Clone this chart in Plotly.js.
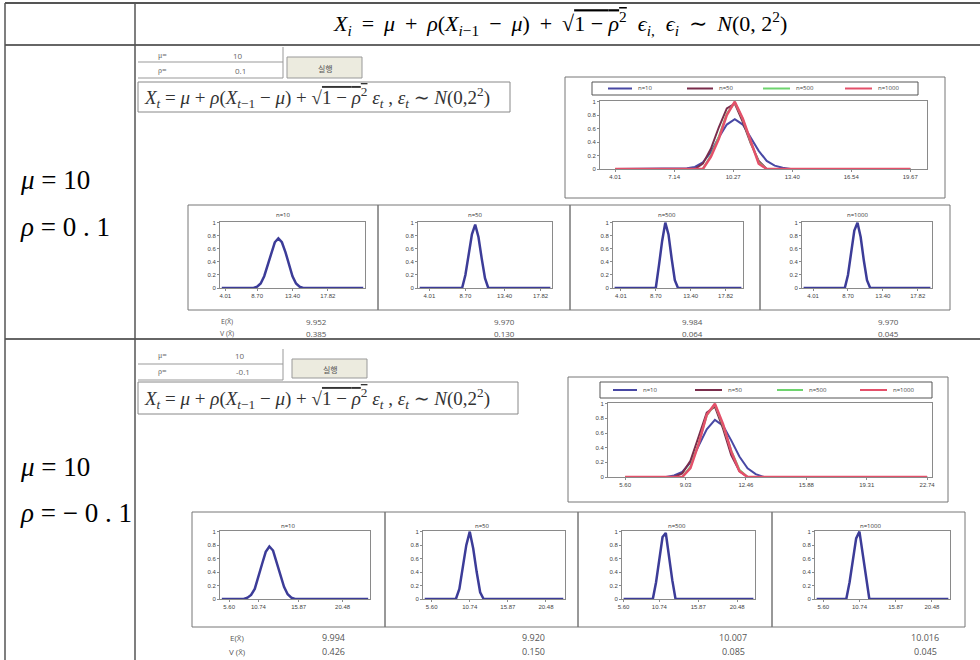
<!DOCTYPE html>
<html><head><meta charset="utf-8">
<script src="https://cdn.plot.ly/plotly-3.0.1.min.js"></script>
<style>html,body{margin:0;padding:0;background:#fff}</style>
</head><body><div id="chart" style="width:980px;height:660px"></div>
<script>
// ---------------- DATA ----------------
const seriesNames = ['n=10', 'n=50', 'n=500', 'n=1000'];
const yTickText = ['0', '0.2', '0.4', '0.6', '0.8', '1'];
const yTickVals = [0, 0.2, 0.4, 0.6, 0.8, 1];

// Row 1 : mu = 10, rho = 0.1
const r1BigTicks = ['4.01', '7.14', '10.27', '13.40', '16.54', '19.67'];
const r1SmallTicks = ['4.01', '8.70', '13.40', '17.82'];
const r1b_n10_x = [0, 8, 9, 10, 11, 12, 13, 14, 15, 16, 17, 18, 19, 20, 21, 22, 37];
const r1b_n10_y = [0, 0, 0.01, 0.03, 0.1, 0.25, 0.47, 0.66, 0.74, 0.66, 0.47, 0.27, 0.12, 0.05, 0.02, 0, 0];
const r1b_n50_x = [0, 10, 11, 12, 13, 14, 15, 16, 17, 18, 19, 37];
const r1b_n50_y = [0, 0, 0.08, 0.3, 0.62, 0.9, 0.97, 0.7, 0.38, 0.12, 0, 0];
const r1b_n500_x = [0, 11, 12, 13, 14, 15, 16, 17, 18, 19, 37];
const r1b_n500_y = [0, 0, 0.2, 0.48, 0.82, 0.99, 0.74, 0.4, 0.1, 0, 0];
const r1b_n1000_x = [0, 11, 12, 13, 14, 15, 16, 17, 18, 19, 37];
const r1b_n1000_y = [0, 0, 0.18, 0.45, 0.8, 1.0, 0.75, 0.42, 0.08, 0, 0];

const r1s_n10_x = [0, 9, 10, 11, 12, 13, 14, 15, 16, 17, 18, 19, 20, 21, 22, 23, 40];
const r1s_n10_y = [0, 0, 0.02, 0.07, 0.18, 0.36, 0.55, 0.7, 0.76, 0.7, 0.55, 0.36, 0.18, 0.07, 0.02, 0, 0];
const r1s_n50_x = [0, 13, 14, 15, 16, 17, 18, 19, 20, 21, 40];
const r1s_n50_y = [0, 0, 0.2, 0.5, 0.82, 0.97, 0.78, 0.45, 0.15, 0, 0];
const r1s_n500_x = [0, 13, 14, 15, 16, 17, 18, 19, 20, 40];
const r1s_n500_y = [0, 0, 0.35, 0.72, 1.0, 0.82, 0.45, 0.12, 0, 0];
const r1s_n1000_x = [0, 13, 14, 15, 16, 17, 18, 19, 20, 21, 40];
const r1s_n1000_y = [0, 0, 0.2, 0.55, 0.88, 1.0, 0.78, 0.42, 0.12, 0, 0];
const r1Mean = ['9.952', '9.970', '9.984', '9.970'];
const r1Var = ['0.385', '0.130', '0.064', '0.045'];

// Row 2 : mu = 10, rho = -0.1
const r2BigTicks = ['5.60', '9.03', '12.46', '15.88', '19.31', '22.74'];
const r2SmallTicks = ['5.60', '10.74', '15.87', '20.48'];
const r2b_n10_x = [0, 5, 6, 7, 8, 9, 10, 11, 12, 13, 14, 15, 16, 17, 37];
const r2b_n10_y = [0, 0, 0.02, 0.07, 0.2, 0.42, 0.65, 0.78, 0.7, 0.5, 0.28, 0.12, 0.04, 0, 0];
const r2b_n50_x = [0, 6, 7, 8, 9, 10, 11, 12, 13, 14, 15, 37];
const r2b_n50_y = [0, 0, 0.05, 0.22, 0.55, 0.88, 0.96, 0.66, 0.3, 0.08, 0, 0];
const r2b_n500_x = [0, 7, 8, 9, 10, 11, 12, 13, 14, 15, 37];
const r2b_n500_y = [0, 0, 0.14, 0.46, 0.84, 0.99, 0.7, 0.36, 0.1, 0, 0];
const r2b_n1000_x = [0, 7, 8, 9, 10, 11, 12, 13, 14, 15, 37];
const r2b_n1000_y = [0, 0, 0.12, 0.45, 0.85, 1.0, 0.72, 0.35, 0.08, 0, 0];

const r2s_n10_x = [0, 6, 7, 8, 9, 10, 11, 12, 13, 14, 15, 16, 17, 18, 19, 20, 40];
const r2s_n10_y = [0, 0, 0.02, 0.06, 0.15, 0.32, 0.52, 0.7, 0.78, 0.72, 0.55, 0.35, 0.18, 0.07, 0.02, 0, 0];
const r2s_n50_x = [0, 9, 10, 11, 12, 13, 14, 15, 16, 17, 40];
const r2s_n50_y = [0, 0, 0.15, 0.45, 0.8, 1.0, 0.75, 0.4, 0.1, 0, 0];
const r2s_n500_x = [0, 9, 10, 11, 12, 13, 14, 15, 16, 40];
const r2s_n500_y = [0, 0, 0.25, 0.62, 0.92, 0.98, 0.62, 0.28, 0, 0];
const r2s_n1000_x = [0, 9, 10, 11, 12, 13, 14, 15, 16, 40];
const r2s_n1000_y = [0, 0, 0.25, 0.6, 0.9, 1.0, 0.65, 0.3, 0, 0];
const r2Mean = ['9.994', '9.920', '10.007', '10.016'];
const r2Var = ['0.426', '0.150', '0.085', '0.045'];

// ---------------- LAYOUT HELPERS ----------------
const W = 980, H = 660;
const fx = p => p / W;
const fy = p => 1 - p / H;
const bigColors = ['#4848a4', '#7a2d4c', '#6ed46e', '#e4506a'];
const bigWidths = [2, 2, 2, 2.5];
const smallColor = '#3c3c98';

const layout = {
  width: W, height: H,
  margin: {l: 0, r: 0, t: 0, b: 0, autoexpand: false},
  paper_bgcolor: '#fff', plot_bgcolor: '#fff',
  showlegend: false,
  shapes: [], annotations: []
};

function addAxes(n, xl, xr, yt, yb, range, tickvals, ticktext) {
  const s = n === 1 ? '' : String(n);
  const common = {
    showline: true, mirror: true, linecolor: '#8a8a8a', linewidth: 1,
    ticks: 'outside', ticklen: 2, tickcolor: '#8a8a8a',
    tickfont: {size: 6, color: '#444', family: 'Liberation Sans, Arial'},
    showgrid: false, zeroline: false, fixedrange: true, automargin: false
  };
  layout['xaxis' + s] = Object.assign({}, common, {
    domain: [fx(xl), fx(xr)], anchor: 'y' + s, range: range,
    tickmode: 'array', tickvals: tickvals, ticktext: ticktext
  });
  layout['yaxis' + s] = Object.assign({}, common, {
    domain: [fy(yb), fy(yt)], anchor: 'x' + s, range: [0, 1.01],
    tickmode: 'array', tickvals: yTickVals, ticktext: yTickText
  });
}

const bigTickPos = [0, 7.4, 14.8, 22.2, 29.6, 37];
addAxes(1, 600, 927, 101, 169, [-1.9, 39.1], bigTickPos, r1BigTicks);
addAxes(2, 608, 932, 403, 477, [-2.1, 37.6], bigTickPos, r2BigTicks);
const sr = [-0.5, 40.5];
addAxes(3, 220, 365, 222, 288, sr, [1, 10, 20, 30], r1SmallTicks);
addAxes(4, 418, 552, 222, 288, sr, [3, 14, 26, 37], r1SmallTicks);
addAxes(5, 613, 743, 222, 288, sr, [2, 13, 24, 35], r1SmallTicks);
addAxes(6, 802, 932, 222, 288, sr, [3, 14, 25, 36], r1SmallTicks);
addAxes(7, 220, 370, 531, 599, sr, [2, 10, 21, 33], r2SmallTicks);
addAxes(8, 423, 565, 531, 599, sr, [2, 13, 24, 35], r2SmallTicks);
addAxes(9, 622, 755, 531, 599, sr, [0, 11, 23, 35], r2SmallTicks);
addAxes(10, 815, 950, 531, 599, sr, [2, 13, 24, 35], r2SmallTicks);

// ---------------- TRACES ----------------
const traces = [];
const r1Big = [[r1b_n10_x, r1b_n10_y], [r1b_n50_x, r1b_n50_y], [r1b_n500_x, r1b_n500_y], [r1b_n1000_x, r1b_n1000_y]];
const r2Big = [[r2b_n10_x, r2b_n10_y], [r2b_n50_x, r2b_n50_y], [r2b_n500_x, r2b_n500_y], [r2b_n1000_x, r2b_n1000_y]];
r1Big.forEach((d, i) => traces.push({
  x: d[0], y: d[1], xaxis: 'x', yaxis: 'y', type: 'scatter', mode: 'lines',
  name: seriesNames[i], line: {color: bigColors[i], width: bigWidths[i]}
}));
r2Big.forEach((d, i) => traces.push({
  x: d[0], y: d[1], xaxis: 'x2', yaxis: 'y2', type: 'scatter', mode: 'lines',
  name: seriesNames[i], line: {color: bigColors[i], width: bigWidths[i]}
}));
const smalls = [
  [r1s_n10_x, r1s_n10_y], [r1s_n50_x, r1s_n50_y], [r1s_n500_x, r1s_n500_y], [r1s_n1000_x, r1s_n1000_y],
  [r2s_n10_x, r2s_n10_y], [r2s_n50_x, r2s_n50_y], [r2s_n500_x, r2s_n500_y], [r2s_n1000_x, r2s_n1000_y]
];
smalls.forEach((d, i) => traces.push({
  x: d[0], y: d[1], xaxis: 'x' + (i + 3), yaxis: 'y' + (i + 3), type: 'scatter', mode: 'lines',
  name: seriesNames[i % 4], line: {color: smallColor, width: 2.5}
}));

// ---------------- SHAPES ----------------
function line(x0, y0, x1, y1, color, width) {
  layout.shapes.push({type: 'line', xref: 'paper', yref: 'paper',
    x0: fx(x0), y0: fy(y0), x1: fx(x1), y1: fy(y1), line: {color: color, width: width}});
}
function rect(x0, y0, x1, y1, color, width, fill, layer) {
  layout.shapes.push({type: 'rect', xref: 'paper', yref: 'paper', layer: layer || 'below',
    x0: fx(x0), y0: fy(y0), x1: fx(x1), y1: fy(y1),
    line: {color: color, width: width}, fillcolor: fill || 'rgba(0,0,0,0)'});
}
// table grid
line(5, 3, 980, 3, '#555', 2);
line(5, 45, 980, 45, '#666', 2);
line(5, 339, 980, 339, '#666', 2);
line(5, 3, 5, 660, '#555', 1.5);
line(135, 3, 135, 660, '#555', 1.5);

// parameter tables, buttons, formula boxes
[0, 302].forEach(dy => {
  line(138, 62 + dy, 283, 62 + dy, '#999', 1);
  line(138, 78 + dy, 283, 78 + dy, '#999', 1);
  line(283, 47 + dy, 283, 78 + dy, '#999', 1);
});
rect(287, 57, 362, 78, '#999', 1, '#ecebdf');
rect(292, 359, 367, 378, '#999', 1, '#ecebdf');
rect(138, 82, 510, 112, '#888', 1);
rect(138, 382, 518, 414, '#888', 1);

// chart boxes
rect(565, 77, 945, 198, '#777', 1);
rect(568, 377, 948, 502, '#777', 1);
[[188, 378], [378, 570], [570, 760], [760, 950]].forEach(b => rect(b[0], 205, b[1], 310, '#777', 1));
[[192, 385], [385, 578], [578, 772], [772, 965]].forEach(b => rect(b[0], 512, b[1], 627, '#777', 1));

// ---------------- TEXT ----------------
function ann(x, y, text, opts) {
  layout.annotations.push(Object.assign({
    xref: 'paper', yref: 'paper', x: fx(x), y: fy(y), text: text, showarrow: false,
    xanchor: 'center', yanchor: 'middle',
    font: {size: 8, color: '#555', family: 'Liberation Sans, Arial'}
  }, opts || {}));
}

// legends of the two overview charts (key lines + labels)
const leg1 = {box: [592, 82, 918, 95], yc: 88.5, lines: [[608, 632], [687, 713], [763, 790], [845, 872]]};
const leg2 = {box: [600, 382, 932, 398], yc: 390, lines: [[613, 637], [695, 722], [777, 803], [860, 887]]};
[leg1, leg2].forEach(L => {
  rect(L.box[0], L.box[1], L.box[2], L.box[3], '#555', 1, '#fff', 'above');
  L.lines.forEach((l, i) => {
    line(l[0], L.yc, l[1], L.yc, bigColors[i], 2);
    ann(l[1] + 4, L.yc, seriesNames[i], {xanchor: 'left', font: {size: 6, color: '#444'}});
  });
});

const serif = 'Liberation Serif, DejaVu Serif, serif';
const t = '\u2009';
ann(560, 23,
  '<i>X<sub>i</sub></i>' + t + ' = ' + t + '<i>μ</i>' + t + ' + ' + t + '<i>ρ</i>(<i>X</i><sub><i>i</i>−1</sub>' + t + ' − ' + t + '<i>μ</i>)' + t + ' + ' + t +
  '√<span style="text-decoration:overline">1 − <i>ρ</i><sup>2</sup></span>  <i>ϵ</i><sub><i>i</i>,</sub>  <i>ϵ<sub>i</sub></i>' + t + ' ∼ ' + t + '<i>N</i>(0, 2<sup>2</sup>)',
  {font: {size: 22, color: '#000', family: serif}});

ann(18, 180, '<i>μ</i> = 10', {xanchor: 'left', font: {size: 27, color: '#000', family: serif}});
ann(18, 227, '<i>ρ</i> = 0 . 1', {xanchor: 'left', font: {size: 27, color: '#000', family: serif}});
ann(18, 467, '<i>μ</i> = 10', {xanchor: 'left', font: {size: 27, color: '#000', family: serif}});
ann(18, 513, '<i>ρ</i> = − 0 . 1', {xanchor: 'left', font: {size: 27, color: '#000', family: serif}});

// parameter cells
ann(162, 55, 'μ=', {font: {size: 8, color: '#666', family: serif}});
ann(238, 55, '10', {font: {size: 8, color: '#666'}});
ann(162, 71, 'ρ=', {font: {size: 8, color: '#666', family: serif}});
ann(240, 71, '0.1', {font: {size: 8, color: '#666'}});
ann(162, 355, 'μ=', {font: {size: 8, color: '#666', family: serif}});
ann(240, 355, '10', {font: {size: 8, color: '#666'}});
ann(162, 371, 'ρ=', {font: {size: 8, color: '#666', family: serif}});
ann(243, 371, '-0.1', {font: {size: 8, color: '#666'}});
ann(325, 68, '실행', {font: {size: 8, color: '#555', family: 'Noto Sans CJK KR'}});
ann(330, 369, '실행', {font: {size: 8, color: '#555', family: 'Noto Sans CJK KR'}});

const boxFormula = '<i>X<sub>t</sub></i> = <i>μ</i> + <i>ρ</i>(<i>X</i><sub><i>t</i>−1</sub> − <i>μ</i>) + √<span style="text-decoration:overline">1 − <i>ρ</i><sup>2</sup></span> <i>ε<sub>t</sub></i> , <i>ε<sub>t</sub></i> ∼ <i>N</i>(0,2<sup>2</sup>)';
ann(142, 98, boxFormula, {xanchor: 'left', font: {size: 19, color: '#333', family: serif}});
ann(142, 399, boxFormula, {xanchor: 'left', font: {size: 19, color: '#333', family: serif}});

// small chart titles
const r1TitleX = [283, 475, 667, 857];
const r2TitleX = [288, 482, 677, 870];
seriesNames.forEach((s, i) => {
  ann(r1TitleX[i], 215, s, {font: {size: 6, color: '#333'}});
  ann(r2TitleX[i], 526, s, {font: {size: 6, color: '#333'}});
});

// statistics under the small charts
const r1StatX = [316, 505, 692, 888];
const r2StatX = [333, 533, 733, 925];
ann(227, 322, 'E(X̄)', {font: {size: 7, color: '#555'}});
ann(227, 333, 'V (X̄)', {font: {size: 7, color: '#555'}});
ann(237, 637, 'E(X̄)', {font: {size: 8, color: '#555'}});
ann(237, 651, 'V (X̄)', {font: {size: 8, color: '#555'}});
r1Mean.forEach((v, i) => ann(r1StatX[i], 322, v, {font: {size: 8, color: '#555'}}));
r1Var.forEach((v, i) => ann(r1StatX[i], 333, v, {font: {size: 8, color: '#555'}}));
r2Mean.forEach((v, i) => ann(r2StatX[i], 637, v, {font: {size: 9, color: '#555'}}));
r2Var.forEach((v, i) => ann(r2StatX[i], 651, v, {font: {size: 9, color: '#555'}}));

Plotly.newPlot('chart', traces, layout, {staticPlot: true, displayModeBar: false});
</script>
</body></html>
